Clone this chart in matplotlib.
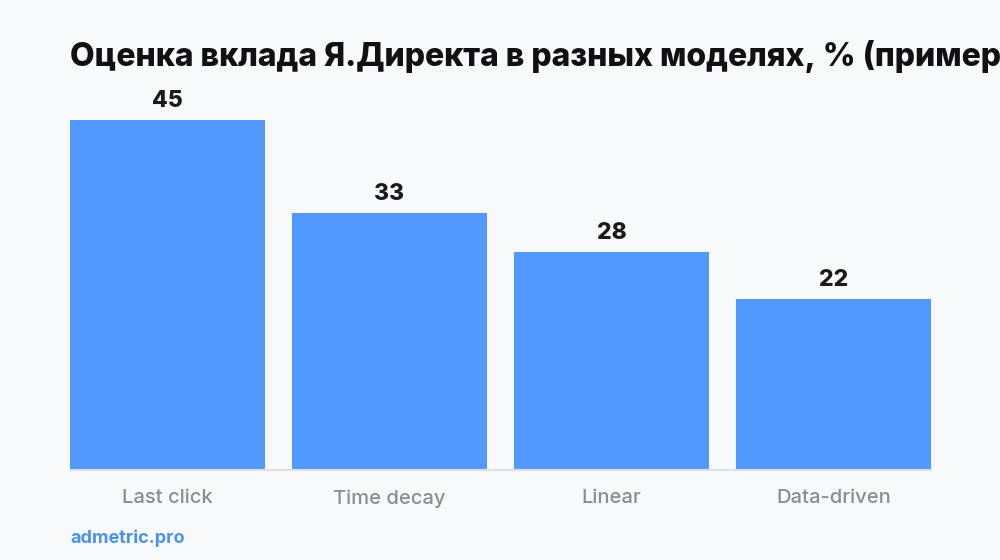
import matplotlib
matplotlib.use("Agg")
import matplotlib.pyplot as plt

categories = ["Last click", "Time decay", "Linear", "Data-driven"]
values = [45, 33, 28, 22]
title = "Оценка вклада Я.Директа в разных моделях, % (пример)"
source = "admetric.pro"

bg = "#f8f9fb"
bar_color = "#5299fe"

plt.rcParams['font.family'] = ['Inter', 'DejaVu Sans']

fig = plt.figure(figsize=(10, 5.6), dpi=100, facecolor=bg)
ax = fig.add_axes([0.07, 90 / 560, 0.861, 370 / 560], facecolor=bg)

x = range(len(categories))
bars = ax.bar(x, values, width=0.878, color=bar_color, zorder=2)
ax.set_xlim(-0.439, len(categories) - 1 + 0.439)
ax.set_ylim(0, 370 / (350 / 45))

for b, v in zip(bars, values):
    ax.annotate(str(v), (b.get_x() + b.get_width() / 2, v),
                xytext=(0, 6), textcoords="offset points",
                ha="center", va="bottom", fontsize=16.5, fontweight="heavy",
                color="#1b1b1f")

ax.set_xticks(list(x))
ax.set_xticklabels(categories, fontsize=14.5, color="#8a8d94", fontweight="medium")
ax.tick_params(axis="x", length=0, pad=14)
ax.set_yticks([])
for s in ["top", "right", "left"]:
    ax.spines[s].set_visible(False)
ax.spines["bottom"].set_color("#dcdfe4")
ax.spines["bottom"].set_linewidth(1.5)

# the reference title runs past the right edge, keep the same look
fig.text(0.07, 1 - 66 / 560, title, fontsize=23, fontweight="heavy",
         color="#111114", ha="left", va="baseline")
fig.text(0.07, 1 - 538 / 560, source, fontsize=13, fontweight="bold",
         color="#4a92ec", ha="left", va="center")

fig.savefig("out.png", dpi=100, facecolor=bg)
